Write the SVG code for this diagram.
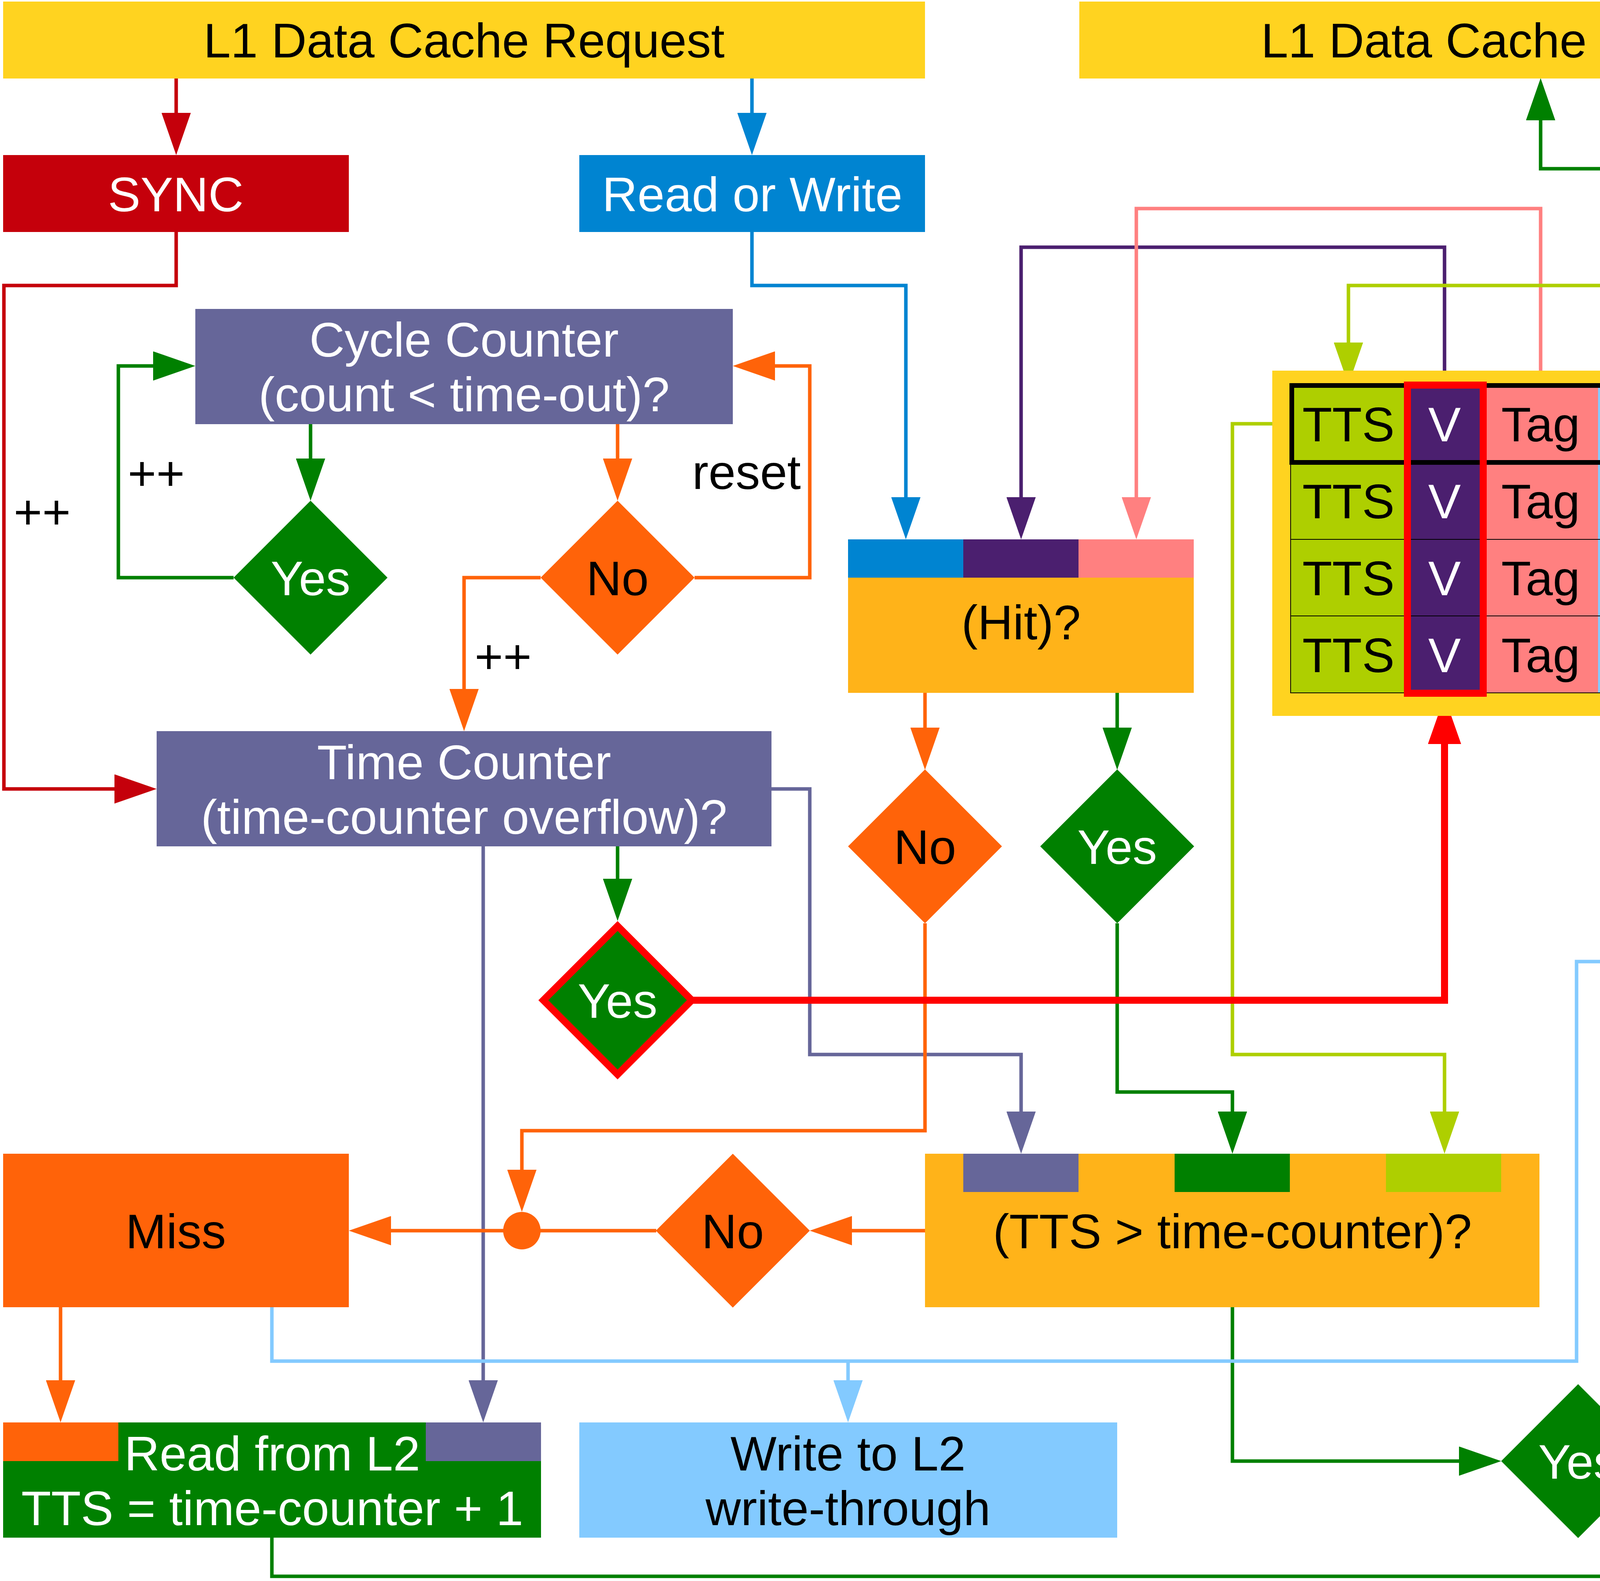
<svg xmlns="http://www.w3.org/2000/svg" width="5138" height="4048" viewBox="0 0 5138 4048">
<style>
text{font-family:"Liberation Sans",Arial,sans-serif;font-size:125px;text-anchor:middle}
.w{fill:#ffffff}
.k{fill:#000000}
.c{fill:none;stroke-width:9;stroke-linejoin:miter}
.yel{fill:#ffd320}
.drd{fill:#c5000b}
.blu{fill:#0084d1}
.gry{fill:#666699}
.grn{fill:#008000}
.org{fill:#ff6309}
.gld{fill:#ffb319}
.pur{fill:#4b1f6f}
.pnk{fill:#ff8080}
.lbl{fill:#83caff}
.ygr{fill:#aecf00}
</style>
<defs>
<marker id="aDrd" markerUnits="userSpaceOnUse" markerWidth="108" markerHeight="75" viewBox="0 0 108 75" refX="0" refY="37.5" orient="auto"><path d="M0,0 L108,37.5 L0,75 z" fill="#c5000b"/></marker>
<marker id="aBlu" markerUnits="userSpaceOnUse" markerWidth="108" markerHeight="75" viewBox="0 0 108 75" refX="0" refY="37.5" orient="auto"><path d="M0,0 L108,37.5 L0,75 z" fill="#0084d1"/></marker>
<marker id="aGrn" markerUnits="userSpaceOnUse" markerWidth="108" markerHeight="75" viewBox="0 0 108 75" refX="0" refY="37.5" orient="auto"><path d="M0,0 L108,37.5 L0,75 z" fill="#008000"/></marker>
<marker id="aOrg" markerUnits="userSpaceOnUse" markerWidth="108" markerHeight="75" viewBox="0 0 108 75" refX="0" refY="37.5" orient="auto"><path d="M0,0 L108,37.5 L0,75 z" fill="#ff6309"/></marker>
<marker id="aGry" markerUnits="userSpaceOnUse" markerWidth="108" markerHeight="75" viewBox="0 0 108 75" refX="0" refY="37.5" orient="auto"><path d="M0,0 L108,37.5 L0,75 z" fill="#666699"/></marker>
<marker id="aPur" markerUnits="userSpaceOnUse" markerWidth="108" markerHeight="75" viewBox="0 0 108 75" refX="0" refY="37.5" orient="auto"><path d="M0,0 L108,37.5 L0,75 z" fill="#4b1f6f"/></marker>
<marker id="aPnk" markerUnits="userSpaceOnUse" markerWidth="108" markerHeight="75" viewBox="0 0 108 75" refX="0" refY="37.5" orient="auto"><path d="M0,0 L108,37.5 L0,75 z" fill="#ff8080"/></marker>
<marker id="aYgr" markerUnits="userSpaceOnUse" markerWidth="108" markerHeight="75" viewBox="0 0 108 75" refX="0" refY="37.5" orient="auto"><path d="M0,0 L108,37.5 L0,75 z" fill="#aecf00"/></marker>
<marker id="aLbl" markerUnits="userSpaceOnUse" markerWidth="108" markerHeight="75" viewBox="0 0 108 75" refX="0" refY="37.5" orient="auto"><path d="M0,0 L108,37.5 L0,75 z" fill="#83caff"/></marker>
<marker id="aRed" markerUnits="userSpaceOnUse" markerWidth="121" markerHeight="85" viewBox="0 0 121 85" refX="0" refY="42.5" orient="auto"><path d="M0,0 L121,42.5 L0,85 z" fill="#ff0000"/></marker>
</defs>
<rect x="0" y="0" width="5138" height="4048" fill="#ffffff"/>

<g id="connectors">
  <path class="c" stroke="#c5000b" d="M451,200 V289" marker-end="url(#aDrd)"/>
  <path class="c" stroke="#0084d1" d="M1925,200 V289" marker-end="url(#aBlu)"/>
  <path class="c" stroke="#c5000b" d="M451,594 V731 H10 V2020 H293" marker-end="url(#aDrd)"/>
  <path class="c" stroke="#0084d1" d="M1925,594 V731 H2319 V1273" marker-end="url(#aBlu)"/>
  <path class="c" stroke="#008000" d="M795,1086 V1174" marker-end="url(#aGrn)"/>
  <path class="c" stroke="#ff6309" d="M1581,1086 V1174" marker-end="url(#aOrg)"/>
  <path class="c" stroke="#008000" d="M598,1479 H303 V937 H392" marker-end="url(#aGrn)"/>
  <path class="c" stroke="#ff6309" d="M1778,1479 H2073 V937 H1984" marker-end="url(#aOrg)"/>
  <path class="c" stroke="#ff6309" d="M1384,1479 H1188 V1764" marker-end="url(#aOrg)"/>
  <path class="c" stroke="#666699" d="M1975,2020 H2073 V2700 H2614 V2846" marker-end="url(#aGry)"/>
  <path class="c" stroke="#666699" d="M1237,2167 V3534" marker-end="url(#aGry)"/>
  <path class="c" stroke="#008000" d="M1581,2167 V2250" marker-end="url(#aGrn)"/>
  <path class="c" stroke="#ff6309" d="M2368,1774 V1863" marker-end="url(#aOrg)"/>
  <path class="c" stroke="#008000" d="M2860,1774 V1863" marker-end="url(#aGrn)"/>
  <path class="c" stroke="#ff6309" d="M2368,2364 V2895 H1336 V2995" marker-end="url(#aOrg)"/>
  <path class="c" stroke="#008000" d="M2860,2364 V2796 H3155 V2846" marker-end="url(#aGrn)"/>
  <path class="c" stroke="#4b1f6f" d="M3698,985 V633 H2614 V1273" marker-end="url(#aPur)"/>
  <path class="c" stroke="#ff8080" d="M3944,985 V534 H2909 V1273" marker-end="url(#aPnk)"/>
  <path class="c" stroke="#aecf00" d="M5086,2110 V731 H3452 V877" marker-end="url(#aYgr)"/>
  <path class="c" stroke="#aecf00" d="M3304,1085 H3155 V2700 H3698 V2846" marker-end="url(#aYgr)"/>
  <path class="c" stroke="#83caff" d="M4335,2364 V2165 H4630 V1085 H4498" marker-end="url(#aLbl)"/>
  <path class="c" stroke="#008000" d="M4826,2364 V432 H3944 V308" marker-end="url(#aGrn)"/>
  <path class="c" stroke="#008000" d="M5086,2157 H4826"/>
  <path class="c" stroke="#008000" d="M696,3937 V4036 H5086 V2312" marker-end="url(#aGrn)"/>
  <path class="c" stroke="#83caff" d="M4335,2954 V2669" marker-end="url(#aLbl)"/>
  <path class="c" stroke="#008000" d="M4826,2954 V2669" marker-end="url(#aGrn)"/>
  <path class="c" stroke="#008000" d="M3155,3347 V3741 H3735" marker-end="url(#aGrn)"/>
  <path class="c" stroke="#008000" d="M4237,3741 H4580 V3455" marker-end="url(#aGrn)"/>
  <path class="c" stroke="#ff6309" d="M2368,3151 H2181" marker-end="url(#aOrg)"/>
  <path class="c" stroke="#ff6309" d="M1680,3151 H1001" marker-end="url(#aOrg)"/>
  <path class="c" stroke="#ff6309" d="M155,3347 V3534" marker-end="url(#aOrg)"/>
  <path class="c" stroke="#83caff" d="M696,3347 V3485 H4036 V2462 H4138"/>
  <path class="c" stroke="#83caff" d="M2171,3485 V3534" marker-end="url(#aLbl)"/>
  <path fill="none" stroke="#ff0000" stroke-width="18" d="M1775,2561 H3698 V1905" marker-end="url(#aRed)"/>
  <circle cx="1336" cy="3151" r="48" fill="#ff6309"/>
  <circle cx="5086" cy="2157" r="47" fill="#008000"/>
  <text class="k" x="108" y="1354">++</text>
  <text class="k" x="400" y="1255">++</text>
  <text class="k" x="1288" y="1724">++</text>
  <text class="k" x="1911" y="1252">reset</text>
</g>

<g id="request">
  <rect class="yel" x="8" y="4" width="2360" height="197"/>
  <text class="k" x="1188" y="147">L1 Data Cache Request</text>
</g>
<g id="response">
  <rect class="yel" x="2763" y="4" width="2363" height="197"/>
  <text class="k" x="3944" y="147">L1 Data Cache Response</text>
</g>
<g id="sync">
  <rect class="drd" x="8" y="397" width="885" height="197"/>
  <text class="w" x="450" y="541">SYNC</text>
</g>
<g id="read-or-write">
  <rect class="blu" x="1483" y="397" width="885" height="197"/>
  <text class="w" x="1926" y="541">Read or Write</text>
</g>
<g id="cycle-counter">
  <rect class="gry" x="500" y="791" width="1376" height="295"/>
  <text class="w" x="1188" y="913">Cycle Counter</text>
  <text class="w" x="1188" y="1053">(count &lt; time-out)?</text>
</g>
<g id="cycle-yes">
  <polygon class="grn" points="795,1282 992,1479 795,1676 598,1479"/>
  <text class="w" x="795" y="1524">Yes</text>
</g>
<g id="cycle-no">
  <polygon class="org" points="1581,1282 1778,1479 1581,1676 1384,1479"/>
  <text class="k" x="1581" y="1524">No</text>
</g>
<g id="time-counter">
  <rect class="gry" x="401" y="1872" width="1574" height="295"/>
  <text class="w" x="1188" y="1995">Time Counter</text>
  <text class="w" x="1188" y="2135">(time-counter overflow)?</text>
</g>
<g id="overflow-yes">
  <polygon class="grn" points="1581,2371 1771,2561 1581,2751 1391,2561" stroke="#ff0000" stroke-width="18"/>
  <text class="w" x="1581" y="2606">Yes</text>
</g>
<g id="hit-check">
  <rect class="gld" x="2171" y="1381" width="885" height="393"/>
  <rect class="blu" x="2171" y="1381" width="295" height="98"/>
  <rect class="pur" x="2466" y="1381" width="295" height="98"/>
  <rect class="pnk" x="2761" y="1381" width="295" height="98"/>
  <text class="k" x="2614" y="1637">(Hit)?</text>
</g>
<g id="hit-no">
  <polygon class="org" points="2368,1970 2565,2167 2368,2364 2171,2167"/>
  <text class="k" x="2368" y="2212">No</text>
</g>
<g id="hit-yes">
  <polygon class="grn" points="2860,1970 3057,2167 2860,2364 2663,2167"/>
  <text class="w" x="2860" y="2212">Yes</text>
</g>
<g id="cache">
  <rect class="yel" x="3257" y="949" width="1179" height="884"/>
  <rect class="ygr" x="3304" y="987" width="295" height="787"/>
  <rect class="pur" x="3599" y="987" width="197" height="787"/>
  <rect class="pnk" x="3796" y="987" width="295" height="787"/>
  <rect class="lbl" x="4091" y="987" width="295" height="787"/>
  <g fill="none" stroke="#000000" stroke-width="2">
    <rect x="3304" y="1184" width="1082" height="197"/>
    <rect x="3304" y="1381" width="1082" height="196"/>
    <rect x="3304" y="1577" width="1082" height="197"/>
  </g>
  <rect x="3307" y="987" width="1077" height="197" fill="none" stroke="#000000" stroke-width="12"/>
  <rect x="3603" y="986" width="194" height="789" fill="none" stroke="#ff0000" stroke-width="18"/>
  <text class="k" x="3452" y="1130">TTS</text>
  <text class="w" x="3698" y="1130">V</text>
  <text class="k" x="3944" y="1130">Tag</text>
  <text class="k" x="4240" y="1130">Data</text>
  <text class="k" x="3452" y="1327">TTS</text>
  <text class="w" x="3698" y="1327">V</text>
  <text class="k" x="3944" y="1327">Tag</text>
  <text class="k" x="4240" y="1327">Data</text>
  <text class="k" x="3452" y="1524">TTS</text>
  <text class="w" x="3698" y="1524">V</text>
  <text class="k" x="3944" y="1524">Tag</text>
  <text class="k" x="4240" y="1524">Data</text>
  <text class="k" x="3452" y="1721">TTS</text>
  <text class="w" x="3698" y="1721">V</text>
  <text class="k" x="3944" y="1721">Tag</text>
  <text class="k" x="4240" y="1721">Data</text>
</g>
<g id="write">
  <rect class="lbl" x="4138" y="2364" width="393" height="197"/>
  <text class="k" x="4335" y="2507">Write</text>
</g>
<g id="read">
  <rect class="grn" x="4630" y="2364" width="393" height="197"/>
  <text class="w" x="4826" y="2507">Read</text>
</g>
<g id="tts-check">
  <rect class="gld" x="2368" y="2954" width="1573" height="393"/>
  <rect class="gry" x="2466" y="2954" width="295" height="98"/>
  <rect class="grn" x="3007" y="2954" width="295" height="98"/>
  <rect class="ygr" x="3548" y="2954" width="295" height="98"/>
  <text class="k" x="3155" y="3196">(TTS &gt; time-counter)?</text>
</g>
<g id="tts-no">
  <polygon class="org" points="1876,2954 2073,3151 1876,3348 1679,3151"/>
  <text class="k" x="1876" y="3196">No</text>
</g>
<g id="miss">
  <rect class="org" x="8" y="2954" width="885" height="393"/>
  <text class="k" x="450" y="3196">Miss</text>
</g>
<g id="hit">
  <rect class="grn" x="4138" y="2954" width="885" height="393"/>
  <text class="w" x="4580" y="3196">Hit</text>
</g>
<g id="tts-yes">
  <polygon class="grn" points="4040,3544 4237,3741 4040,3938 3843,3741"/>
  <text class="w" x="4040" y="3786">Yes</text>
</g>
<g id="read-from-l2">
  <rect class="grn" x="8" y="3642" width="1377" height="295"/>
  <rect class="org" x="8" y="3642" width="295" height="99"/>
  <rect class="gry" x="1090" y="3642" width="295" height="99"/>
  <text class="w" x="697" y="3765">Read from L2</text>
  <text class="w" x="697" y="3905">TTS = time-counter + 1</text>
</g>
<g id="write-to-l2">
  <rect class="lbl" x="1483" y="3642" width="1377" height="295"/>
  <text class="k" x="2171" y="3765">Write to L2</text>
  <text class="k" x="2171" y="3905">write-through</text>
</g>
</svg>
